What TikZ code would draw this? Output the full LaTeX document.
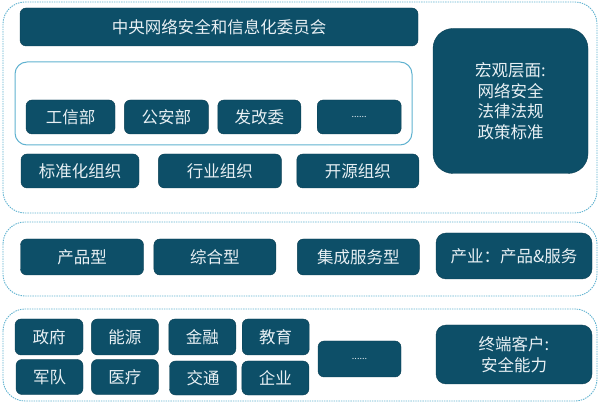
\documentclass[tikz,border=0pt]{standalone}
\usepackage{fontspec}
\setmainfont{Noto Sans CJK SC}
\definecolor{SecTeal}{RGB}{13, 79, 104}
\definecolor{SecLine}{RGB}{96, 178, 208}
\definecolor{SecText}{RGB}{232, 240, 244}
\usepackage{tikz}
\usetikzlibrary{positioning}

\tikzset{
  tealbox/.style={fill=SecTeal, draw=SecTeal!80!black, line width=0.4pt, rounded corners=6pt, text=SecText, inner sep=0pt, align=center, font=\fontsize{16.5}{20.5}\selectfont},
  layer/.style={draw=SecLine, line width=0.9pt, dash pattern=on 1.4pt off 1pt, rounded corners=22pt},
  dotsbox/.style={tealbox, font=\fontsize{9}{11}\selectfont}
}

\begin{document}
\begin{tikzpicture}[x=1pt, y=-1pt]
    \useasboundingbox (0,0) rectangle (600,403);

    % layer frames
    \draw[layer] (3,2) rectangle (597,213);
    \draw[layer] (3,222) rectangle (597,296);
    \draw[layer] (3,309) rectangle (597,401);

    % macro level
    \node[tealbox, minimum width=398pt, minimum height=38pt] (cac) at (219,27) {中央网络安全和信息化委员会};
    \draw[draw=SecLine, line width=1pt, rounded corners=12pt] (15,62) rectangle (412,145);
    \node[tealbox, minimum width=89pt, minimum height=34pt] (miit) at (70.5,117) {工信部};
    \node[tealbox, minimum width=84pt, minimum height=34pt, right=9pt of miit] (mps) {公安部};
    \node[tealbox, minimum width=83pt, minimum height=34pt, right=9pt of mps] (ndrc) {发改委};
    \node[dotsbox, minimum width=84pt, minimum height=34pt, right=16pt of ndrc] (moredept) {......};
    \node[tealbox, minimum width=118pt, minimum height=34pt] (stdorg) at (80,171) {标准化组织};
    \node[tealbox, minimum width=123pt, minimum height=34pt, right=19pt of stdorg] (indorg) {行业组织};
    \node[tealbox, minimum width=122pt, minimum height=34pt, right=15pt of indorg] (osorg) {开源组织};
    \node[tealbox, minimum width=155pt, minimum height=145pt, rounded corners=20pt] (macro) at (510.5,101) {宏观层面:\\网络安全\\法律法规\\政策标准};

    % industry level
    \node[tealbox, minimum width=123pt, minimum height=36pt] (prod) at (82,257) {产品型};
    \node[tealbox, minimum width=122pt, minimum height=36pt, right=10pt of prod] (combo) {综合型};
    \node[tealbox, minimum width=122pt, minimum height=36pt, right=21pt of combo] (integ) {集成服务型};
    \node[tealbox, minimum width=156pt, minimum height=46pt, rounded corners=10pt] (industry) at (514,256) {产业：产品\&服务};

    % customer level
    \node[tealbox, minimum width=68pt, minimum height=36pt] (gov) at (49,337) {政府};
    \node[tealbox, minimum width=67pt, minimum height=36pt, right=8pt of gov] (energy) {能源};
    \node[tealbox, minimum width=67pt, minimum height=36pt, right=10pt of energy] (finance) {金融};
    \node[tealbox, minimum width=67pt, minimum height=36pt, right=6pt of finance] (edu) {教育};
    \node[tealbox, minimum width=67pt, minimum height=35pt] (army) at (49.5,377) {军队};
    \node[tealbox, minimum width=67pt, minimum height=35pt, right=8pt of army] (health) {医疗};
    \node[tealbox, minimum width=67pt, minimum height=34pt] (traffic) at (203,378) {交通};
    \node[tealbox, minimum width=67pt, minimum height=34pt, right=5pt of traffic] (corp) {企业};
    \node[dotsbox, minimum width=83pt, minimum height=36pt] (morecust) at (359.5,359) {......};
    \node[tealbox, minimum width=156pt, minimum height=59pt, rounded corners=10pt] (client) at (514,354.5) {终端客户:\\安全能力};
\end{tikzpicture}
\end{document}
